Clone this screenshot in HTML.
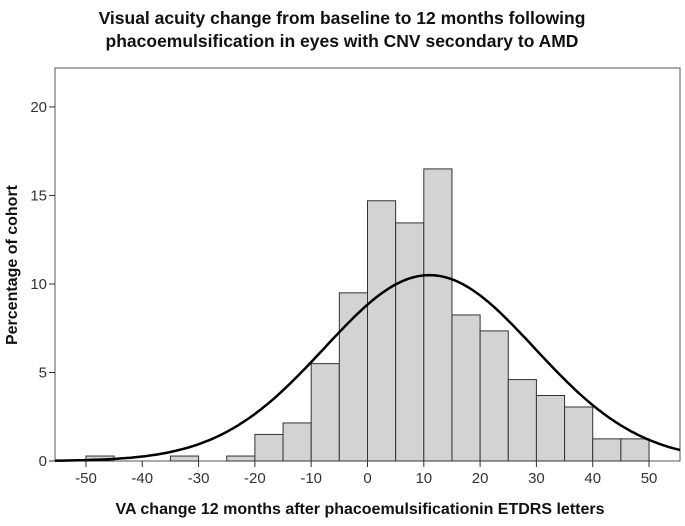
<!DOCTYPE html>
<html><head><meta charset="utf-8"><style>
body{margin:0;background:#fff;}
svg{display:block;font-family:"Liberation Sans",Arial,sans-serif;}
</style></head><body>
<svg width="685" height="526" xmlns="http://www.w3.org/2000/svg">
<g id="root"></g>
</svg>
<script>
const binStarts=[-50,-35,-25,-20,-15,-10,-5,0,5,10,15,20,25,30,35,40,45];
const binPercents=[0.28,0.28,0.28,1.5,2.15,5.5,9.5,14.7,13.45,16.5,8.25,7.35,4.6,3.7,3.05,1.25,1.25];
const binWidth=5;
const xTicks=[-50,-40,-30,-20,-10,0,10,20,30,40,50];
const yTicks=[0,5,10,15,20];
const curveMean=11, curveSd=18.7, curvePeak=10.5;
const L=55,R=680,T=68,B=461;
const xMin=-55.5,xMax=55.5,yMax=22.2;
const X=v=>L+(v-xMin)/(xMax-xMin)*(R-L);
const Y=v=>B-v/yMax*(B-T);
const NS="http://www.w3.org/2000/svg";
const root=document.getElementById('root');
function mk(tag,attrs,text){const e=document.createElementNS(NS,tag);for(const k in attrs)e.setAttribute(k,attrs[k]);if(text!==undefined)e.textContent=text;root.appendChild(e);return e;}
let t=mk('text',{x:342,y:24,'text-anchor':'middle','font-size':'17.5','font-weight':'bold',fill:'#111'},'Visual acuity change from baseline to 12 months following');


t=mk('text',{x:342,y:47,'text-anchor':'middle','font-size':'17.5','font-weight':'bold',fill:'#111'},'phacoemulsification in eyes with CNV secondary to AMD');


let f=mk('rect',{x:L,y:T,width:R-L,height:B-T,fill:'#fff',stroke:'#555','stroke-width':1});


binStarts.forEach((s,i)=>{
 const r=mk('rect',{x:X(s),y:Y(binPercents[i]),width:X(s+binWidth)-X(s),height:B-Y(binPercents[i]),fill:'#d3d3d3',stroke:'#333','stroke-width':1});
 
 
});
let d='';
for(let v=xMin;v<=xMax+0.01;v+=0.5){const y=curvePeak*Math.exp(-((v-curveMean)**2)/(2*curveSd*curveSd));d+=(d?'L':'M')+X(v).toFixed(1)+','+Y(y).toFixed(1);}
const c=mk('path',{d:d,fill:'none',stroke:'#000','stroke-width':2.5});


xTicks.forEach(v=>{
 const l=mk('line',{x1:X(v),x2:X(v),y1:B,y2:B+6,stroke:'#333'});
 
 
 const tx=mk('text',{x:X(v),y:B+22,'text-anchor':'middle','font-size':'15',fill:'#333'},String(v));
 
 
});
yTicks.forEach(v=>{
 const l=mk('line',{x1:L-6,x2:L,y1:Y(v),y2:Y(v),stroke:'#333'});
 
 
 const tx=mk('text',{x:L-8,y:Y(v)+5,'text-anchor':'end','font-size':'15',fill:'#333'},String(v));
 
 
});
t=mk('text',{x:360,y:514,'text-anchor':'middle','font-size':'16','font-weight':'bold',fill:'#111'},'VA change 12 months after phacoemulsificationin ETDRS letters');


t=mk('text',{x:0,y:0,'text-anchor':'middle','font-size':'16','font-weight':'bold',fill:'#111',transform:'translate(17,265) rotate(-90)'},'Percentage of cohort');


</script>
</body></html>
